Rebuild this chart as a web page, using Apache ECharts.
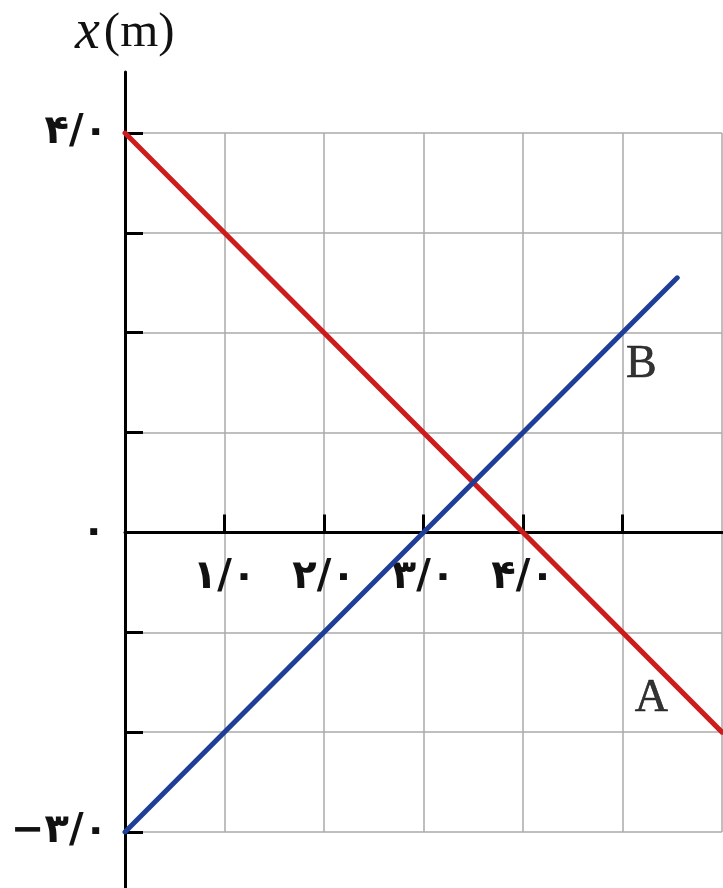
<!DOCTYPE html>
<html>
<head>
<meta charset="utf-8">
<title>x(m)</title>
<script src="https://cdn.jsdelivr.net/npm/echarts@6/dist/echarts.min.js"></script>
<style>
  html, body { margin: 0; padding: 0; background: #ffffff; }
  #chart { width: 723px; height: 888px; }
</style>
</head>
<body>
<div id="chart"></div>
<script>
// Position–time lines of the two bodies (t in s, x in m)
const lineA = [[0, 4], [6, -2]];
const lineB = [[0, -3], [5.55, 2.55]];

// Letters naming each line, placed in data units
const lineNames = ['A', 'B'];
const lineNamePos = [[5.29, -1.67], [5.19, 1.68]];

// Axis ranges
const tMin = 0, tMax = 6;
const xMin = -3, xMax = 4;

// Tick marks and labels (Persian digits)
const tTickMarks = [1, 2, 3, 4, 5];
const tTickValues = [1, 2, 3, 4];
const tTickTexts = ['۱/۰', '۲/۰', '۳/۰', '۴/۰'];
const xTickValues = [4, 0, -3];
const xTickTexts = ['۴/۰', '۰', '−۳/۰'];

const digitFont = 'DejaVu Sans';
const serifFont = 'Liberation Serif';
const gridColor = '#aaaaaa';
const tickFontSize = 40;

// Plot box in pixels
const plotLeft = 125, plotTop = 133, plotW = 597, plotH = 699;
// Upper part of the plot, from x = xMax down to x = 0, so the time axis sits on x = 0
const upperH = plotH * xMax / (xMax - xMin);

const chart = echarts.init(document.getElementById('chart'), null, { renderer: 'canvas' });

chart.setOption({
  animation: false,
  backgroundColor: '#ffffff',
  title: {
    left: 70,
    top: 0,
    text: '{v|x}{u|(m)}',
    textStyle: {
      fontWeight: 'normal',
      rich: {
        v: { fontFamily: serifFont, fontStyle: 'italic', fontWeight: 'normal', fontSize: 56, color: '#111', padding: [0, 4, 0, 0] },
        u: { fontFamily: serifFont, fontWeight: 'normal', fontSize: 49, color: '#111' }
      }
    }
  },
  grid: [
    { left: plotLeft, top: plotTop, width: plotW, height: plotH },
    { left: plotLeft, top: 72, width: plotW, bottom: 0 },
    { left: plotLeft, top: plotTop, width: plotW, height: upperH }
  ],
  xAxis: [
    {
      // plot area: vertical grid lines only
      gridIndex: 0,
      type: 'value',
      min: tMin,
      max: tMax,
      interval: 1,
      axisLine: { show: false },
      axisTick: { show: false },
      axisLabel: { show: false },
      splitLine: { show: true, lineStyle: { color: gridColor, width: 1.5 } }
    },
    { gridIndex: 1, type: 'value', min: 0, max: 1, show: false },
    {
      // time axis drawn along x = 0
      gridIndex: 2,
      type: 'value',
      position: 'bottom',
      min: tMin,
      max: tMax,
      interval: 1,
      axisLine: { show: true, onZero: false, lineStyle: { color: '#000', width: 3 } },
      axisTick: { show: true, inside: true, length: 18, customValues: tTickMarks, lineStyle: { color: '#000', width: 3 } },
      axisLabel: {
        show: true,
        margin: 25,
        fontFamily: digitFont,
        fontWeight: 'bold',
        fontSize: tickFontSize,
        color: '#111',
        customValues: tTickValues,
        formatter: function (v) {
          const i = tTickValues.indexOf(v);
          return i >= 0 ? tTickTexts[i] : '';
        }
      },
      splitLine: { show: false }
    }
  ],
  yAxis: [
    {
      gridIndex: 0,
      type: 'value',
      min: xMin,
      max: xMax,
      interval: 1,
      axisLine: { show: false },
      axisTick: { show: true, inside: true, length: 18, lineStyle: { color: '#000', width: 3 } },
      axisLabel: {
        show: true,
        margin: 17,
        fontFamily: digitFont,
        fontWeight: 'bold',
        fontSize: tickFontSize,
        color: '#111',
        formatter: function (v) {
          const i = xTickValues.indexOf(v);
          if (i < 0) return '';
          return v === 0 ? '{z|' + xTickTexts[i] + '}' : xTickTexts[i];
        },
        rich: {
          z: { fontFamily: digitFont, fontWeight: 'bold', fontSize: tickFontSize, color: '#111', padding: [0, 2, 0, 0] }
        }
      },
      splitLine: { show: true, lineStyle: { color: gridColor, width: 1.5 } }
    },
    {
      // position axis line, running past the plot box
      gridIndex: 1,
      type: 'value',
      min: 0,
      max: 1,
      axisLine: { show: true, onZero: false, lineStyle: { color: '#000', width: 3 } },
      axisTick: { show: false },
      axisLabel: { show: false },
      splitLine: { show: false }
    },
    {
      gridIndex: 2,
      type: 'value',
      min: 0,
      max: xMax,
      show: false
    }
  ],
  series: [
    {
      name: 'A',
      type: 'line',
      xAxisIndex: 0,
      yAxisIndex: 0,
      data: lineA,
      showSymbol: false,
      symbol: 'none',
      lineStyle: { color: '#cc1c1c', width: 5, cap: 'round' },
      z: 3
    },
    {
      name: 'B',
      type: 'line',
      xAxisIndex: 0,
      yAxisIndex: 0,
      data: lineB,
      showSymbol: false,
      symbol: 'none',
      lineStyle: { color: '#1f3e98', width: 5, cap: 'round' },
      z: 3
    },
    {
      name: 'names',
      type: 'scatter',
      xAxisIndex: 0,
      yAxisIndex: 0,
      symbolSize: 0,
      silent: true,
      data: lineNamePos.map(function (p, i) { return { value: p, name: lineNames[i] }; }),
      label: {
        show: true,
        position: 'inside',
        formatter: '{b}',
        fontFamily: serifFont,
        fontSize: 46,
        color: '#000',
        textBorderColor: '#000',
        textBorderWidth: 0.6
      },
      z: 4
    }
  ]
});
</script>
</body>
</html>
